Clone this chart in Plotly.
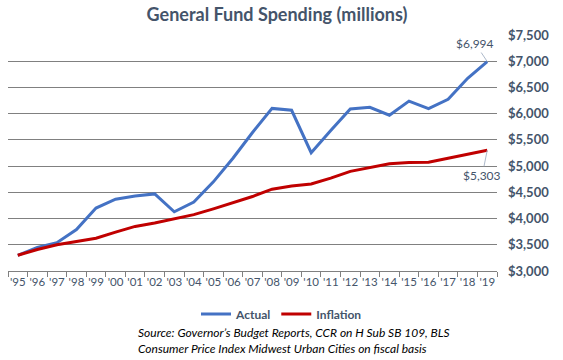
import plotly.graph_objects as go

years = ["'95", "'96", "'97", "'98", "'99", "'00", "'01", "'02", "'03", "'04",
         "'05", "'06", "'07", "'08", "'09", "'10", "'11", "'12", "'13", "'14",
         "'15", "'16", "'17", "'18", "'19"]
actual = [3300, 3450, 3540, 3790, 4200, 4370, 4430, 4470, 4130, 4316,
          4700, 5150, 5640, 6100, 6065, 5256, 5680, 6090, 6120, 5970,
          6240, 6095, 6275, 6675, 6994]
inflation = [3300, 3410, 3500, 3565, 3625, 3740, 3850, 3915, 3990, 4075,
             4185, 4305, 4420, 4560, 4620, 4660, 4770, 4900, 4975, 5045,
             5070, 5075, 5150, 5225, 5303]
y_ticks = [3000, 3500, 4000, 4500, 5000, 5500, 6000, 6500, 7000, 7500]
y_labels = ["$3,000", "$3,500", "$4,000", "$4,500", "$5,000",
            "$5,500", "$6,000", "$6,500", "$7,000", "$7,500"]

FONT = "Lato"
TXT = "#44546A"

fig = go.Figure()
fig.add_trace(go.Scatter(x=years, y=actual, name="<b>Actual</b>", mode="lines",
                         line=dict(color="#4472C4", width=3)))
fig.add_trace(go.Scatter(x=years, y=inflation, name="<b>Inflation</b>", mode="lines",
                         line=dict(color="#C00000", width=3)))

fig.add_annotation(x=years[-1], y=actual[-1], text="$6,994", showarrow=True,
                   arrowhead=0, arrowwidth=1, arrowcolor="#ADB9CA",
                   ax=-12, ay=-18, font=dict(family=FONT, size=12, color=TXT))
fig.add_annotation(x=years[-1], y=inflation[-1], text="$5,303", showarrow=True,
                   arrowhead=0, arrowwidth=1, arrowcolor="#ADB9CA",
                   ax=-5, ay=25, font=dict(family=FONT, size=12, color=TXT))

fig.add_annotation(xref="paper", yref="paper", x=0.2618, y=-0.2945,
                   xanchor="left", yanchor="middle", align="left", showarrow=False,
                   text="<i>Source: Governor’s Budget Reports, CCR on H Sub SB 109, BLS<br>"
                        "Consumer Price Index Midwest Urban Cities on fiscal basis</i>",
                   font=dict(family=FONT, size=12, color="#000000"))

fig.update_layout(
    width=563, height=360,
    margin=dict(l=8, r=66, t=35, b=89, autoexpand=False),
    paper_bgcolor="white", plot_bgcolor="white",
    title=dict(text="<b>General Fund Spending (millions)</b>", xref="container",
               x=0.492, y=0.958, xanchor="center", yanchor="middle",
               font=dict(family=FONT, size=18, color=TXT)),
    legend=dict(orientation="h", xref="container", yref="container",
                x=0.5, y=0.128, xanchor="center", yanchor="middle",
                font=dict(family=FONT, size=12, color=TXT), itemwidth=30),
    font=dict(family=FONT, color=TXT),
)
fig.update_xaxes(type="category", range=[-0.5, 24.5], tickson="boundaries",
                 ticks="outside", ticklen=5, tickcolor="#808080",
                 showline=True, linecolor="#808080", linewidth=1,
                 showgrid=False, tickangle=0, automargin=False,
                 tickfont=dict(family=FONT, size=11.5, color=TXT))
fig.update_yaxes(side="right", range=[3000, 7500], tickvals=y_ticks,
                 ticktext=y_labels, showgrid=True, automargin=False,
                 gridcolor="#808080", gridwidth=1, zeroline=False, ticks="",
                 ticklabelstandoff=10,
                 tickfont=dict(family=FONT, size=13, color=TXT, weight="bold"))

fig.write_html("out.html", config={"displayModeBar": False},
               post_script="document.body.style.margin='0';document.body.style.padding='0';")
